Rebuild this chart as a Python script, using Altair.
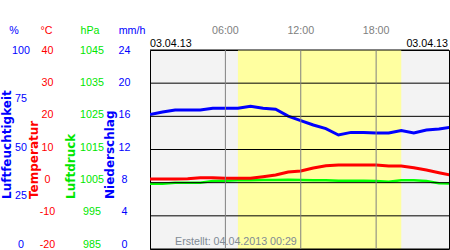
import altair as alt
import pandas as pd

# ---- data ----
hours = list(range(25))
humidity = [67.6, 68.8, 69.8, 69.8, 69.8, 70.7, 70.7, 70.7, 71.7, 70.7, 70.2, 66.8,
            64.5, 62.3, 60.5, 57.3, 58.6, 58.6, 58.3, 58.3, 59.5, 58.3, 59.8, 60.3, 61.3]
temperature = [1.1, 1.1, 1.1, 1.2, 1.5, 1.5, 1.3, 1.3, 1.3, 1.8, 2.3, 3.2,
               3.5, 4.4, 5.1, 5.3, 5.3, 5.3, 5.3, 5.0, 5.0, 4.5, 3.8, 3.0, 2.2]
pressure = [1004.7, 1004.7, 1005.0, 1005.0, 1005.0, 1005.5, 1005.6, 1005.7, 1005.7, 1005.8,
            1005.8, 1005.9, 1005.8, 1005.7, 1005.7, 1005.6, 1005.6, 1005.6, 1005.5, 1005.3,
            1005.7, 1005.7, 1005.5, 1004.8, 1004.7]

hum_ticks = [0, 25, 50, 75, 100]
temp_ticks = [-20, -10, 0, 10, 20, 30, 40]
pres_ticks = [985, 995, 1005, 1015, 1025, 1035, 1045]
prec_ticks = [0, 4, 8, 12, 16, 20, 24]
hour_ticks = [6, 12, 18]
hour_labels = ["06:00", "12:00", "18:00"]
day_start = [7.0]
day_end = [20.0]
date_label = "03.04.13"
created_label = "Erstellt: 04.04.2013 00:29"
unit_labels = ["%", "°C", "hPa", "mm/h"]
axis_titles = ["Luftfeuchtigkeit", "Temperatur", "Luftdruck", "Niederschlag"]

BLUE = "#0000ff"
RED = "#ff0000"
GREEN = "#00ff00"
GREEN_TXT = "#00e600"
FONT = "Liberation Sans"
FS = 10.7

xs = alt.Scale(domain=[0, 23.8], nice=False, zero=False)

df = pd.DataFrame({"h": hours, "hum": humidity, "temp": temperature, "pres": pressure})

def yscale(lo, hi, rng=None):
    if rng is None:
        return alt.Scale(domain=[lo, hi], nice=False, zero=False)
    return alt.Scale(domain=[lo, hi], nice=False, zero=False, range=rng)

day = alt.Chart(pd.DataFrame({"a": day_start, "b": day_end})).mark_rect(color="#ffffa0").encode(
    x=alt.X("a:Q", scale=xs, axis=None), x2="b:Q")

def line(field, lo, hi, color, w):
    return alt.Chart(df).mark_line(color=color, strokeWidth=w, clip=True).encode(
        x=alt.X("h:Q", scale=xs, axis=None),
        y=alt.Y(f"{field}:Q", scale=yscale(lo, hi), axis=None))

hum_line = line("hum", 0, 100, BLUE, 3)
pres_line = line("pres", 985, 1045, GREEN, 2.5)
temp_line = line("temp", -20, 40, RED, 3)

hgrid = alt.Chart(pd.DataFrame({"t": temp_ticks})).mark_rule(color="black", strokeWidth=1).encode(
    y=alt.Y("t:Q", scale=yscale(-20, 40), axis=None))
vgrid = alt.Chart(pd.DataFrame({"h": hour_ticks})).mark_rule(color="#808080", strokeWidth=1).encode(
    x=alt.X("h:Q", scale=xs, axis=None))

hour_text = alt.Chart(pd.DataFrame({"h": hour_ticks, "lab": hour_labels})).mark_text(
    font=FONT, fontSize=FS, color="#808080", baseline="alphabetic", align="center").encode(
    x=alt.X("h:Q", scale=xs, axis=None), y=alt.value(-16.5), text="lab:N")

date_left = alt.Chart(pd.DataFrame({"t": [date_label]})).mark_text(
    font=FONT, fontSize=FS, color="black", baseline="alphabetic", align="left").encode(
    x=alt.value(0), y=alt.value(-3.3), text="t:N")
date_right = alt.Chart(pd.DataFrame({"t": [date_label]})).mark_text(
    font=FONT, fontSize=FS, color="black", baseline="alphabetic", align="right").encode(
    x=alt.value(298), y=alt.value(-3.3), text="t:N")
created = alt.Chart(pd.DataFrame({"t": [created_label]})).mark_text(
    font=FONT, fontSize=FS, color="#808a94", baseline="alphabetic", align="left").encode(
    x=alt.value(25), y=alt.value(194.5), text="t:N")

unit_colors = [BLUE, RED, GREEN_TXT, BLUE]
unit_x = [-136, -103.5, -60, -18]
units = []
for u, c, xv in zip(unit_labels, unit_colors, unit_x):
    units.append(alt.Chart(pd.DataFrame({"t": [u]})).mark_text(
        font=FONT, fontSize=FS, color=c, baseline="alphabetic", align="center").encode(
        x=alt.value(xv), y=alt.value(-16.5), text="t:N"))

title_x = [-139.5, -112, -75.5, -36]
titles = []
for t, c, xv in zip(axis_titles, unit_colors, title_x):
    titles.append(alt.Chart(pd.DataFrame({"t": [t]})).mark_text(
        font="DejaVu Sans", fontSize=12, fontWeight="bold", color=c, angle=270,
        baseline="alphabetic", align="left").encode(
        x=alt.value(xv), y=alt.value(149), text="t:N"))

def axis_layer(ticks, lo, hi, color, offset):
    return alt.Chart(pd.DataFrame({"v": ticks})).mark_point(opacity=0).encode(
        y=alt.Y("v:Q", scale=yscale(lo, hi, [194, 0]),
                axis=alt.Axis(orient="left", offset=offset, values=ticks, ticks=False, tickSize=0,
                              domain=False, grid=False, labelPadding=0, labelAlign="center",
                              labelBaseline="middle", labelColor=color, labelFont=FONT,
                              labelFontSize=FS, labelOverlap=False, title=None,
                              labelExpr="'' + datum.value")))

ax_hum = axis_layer(hum_ticks, 0, 100, BLUE, 129.5)
ax_temp = axis_layer(temp_ticks, -20, 40, RED, 103)
ax_pres = axis_layer(pres_ticks, 985, 1045, GREEN_TXT, 58.5)
ax_prec = axis_layer(prec_ticks, 0, 24, BLUE, 26)

chart = alt.layer(
    day, hum_line, pres_line, temp_line, hgrid, vgrid,
    hour_text, date_left, date_right, created, *units, *titles,
    ax_hum, ax_temp, ax_pres, ax_prec
).resolve_scale(y="independent").properties(
    width=299, height=199,
    autosize=alt.AutoSizeParams(type="none"),
    padding={"left": 150, "top": 50, "right": 1, "bottom": 1},
    background="white",
).configure_view(stroke="black", strokeWidth=1, fill="#f3f3f3")

chart.save("out.html", embed_options={"renderer": "svg", "actions": False})
